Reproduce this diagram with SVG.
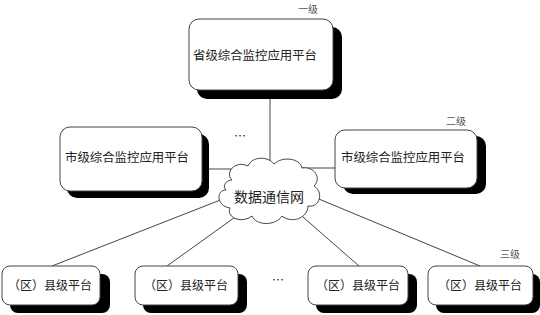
<svg xmlns="http://www.w3.org/2000/svg" width="540" height="315" viewBox="0 0 540 315">
<style>
.sh{fill:#000}
.bx{fill:#fff;stroke:#444;stroke-width:1}
.t{font-family:"Noto Sans CJK SC","Liberation Serif",serif;fill:#222}
.lv{font-family:"Noto Sans CJK SC","Liberation Serif",serif;fill:#555;font-size:10px}
.ln{stroke:#444;stroke-width:1;fill:none}
</style>
<rect width="540" height="315" fill="#fff"/>
<g id="connectors">
<line class="ln" x1="270" y1="90" x2="270" y2="180"/>
<line class="ln" x1="202" y1="169" x2="240" y2="169"/>
<line class="ln" x1="300" y1="168" x2="335" y2="168"/>
<line class="ln" x1="228" y1="197" x2="52" y2="266"/>
<line class="ln" x1="245" y1="210" x2="167" y2="266"/>
<line class="ln" x1="295" y1="210" x2="359" y2="266"/>
<line class="ln" x1="314" y1="197" x2="480" y2="266"/>
</g>
<g id="top">
<rect class="sh" x="197" y="27" width="145" height="72" rx="10"/>
<rect class="bx" x="189" y="19" width="144" height="71" rx="10"/>
<text class="t" x="255" y="60" font-size="12.4" text-anchor="middle">省级综合监控应用平台</text>
<text class="lv" x="298" y="13">一级</text>
</g>
<g id="city-left">
<rect class="sh" x="67" y="134" width="142" height="64" rx="10"/>
<rect class="bx" x="60" y="127" width="142" height="64" rx="10"/>
<text class="t" x="127" y="162" font-size="12.4" text-anchor="middle">市级综合监控应用平台</text>
</g>
<g id="city-right">
<rect class="sh" x="343" y="136" width="143" height="58" rx="10"/>
<rect class="bx" x="335" y="130" width="142" height="58" rx="10"/>
<text class="t" x="403" y="162" font-size="12.4" text-anchor="middle">市级综合监控应用平台</text>
<text class="lv" x="446" y="125">二级</text>
</g>
<g id="dots">
<text class="t" x="240" y="141" font-size="12" text-anchor="middle">…</text>
<text class="t" x="278" y="285" font-size="12" text-anchor="middle">…</text>
</g>
<g id="cloud">
<path class="bx" d="M232,180 C224,172 236,160 248,166 C252,156 268,156 274,164 C282,156 300,158 302,168 C314,166 322,178 314,186 C324,192 320,208 308,206 C308,218 292,224 282,216 C276,226 256,226 252,216 C242,224 226,218 230,208 C216,206 216,190 226,190 C222,186 226,180 232,180 Z"/>
<text class="t" x="269" y="202" font-size="14" text-anchor="middle">数据通信网</text>
</g>
<g id="county1">
<rect class="sh" x="10" y="274" width="100" height="39" rx="8"/>
<rect class="bx" x="2" y="266" width="98" height="39" rx="8"/>
<text class="t" x="50" y="290" font-size="12" text-anchor="middle">（区）县级平台</text>
</g>
<g id="county2">
<rect class="sh" x="143" y="274" width="104" height="39" rx="8"/>
<rect class="bx" x="135" y="266" width="103" height="39" rx="8"/>
<text class="t" x="186" y="290" font-size="12" text-anchor="middle">（区）县级平台</text>
</g>
<g id="county3">
<rect class="sh" x="316" y="274" width="101" height="39" rx="8"/>
<rect class="bx" x="308" y="266" width="100" height="39" rx="8"/>
<text class="t" x="358" y="290" font-size="12" text-anchor="middle">（区）县级平台</text>
</g>
<g id="county4">
<rect class="sh" x="436" y="274" width="104" height="39" rx="8"/>
<rect class="bx" x="428" y="266" width="105" height="39" rx="8"/>
<text class="t" x="480" y="290" font-size="12" text-anchor="middle">（区）县级平台</text>
<text class="lv" x="500" y="258">三级</text>
</g>
</svg>
